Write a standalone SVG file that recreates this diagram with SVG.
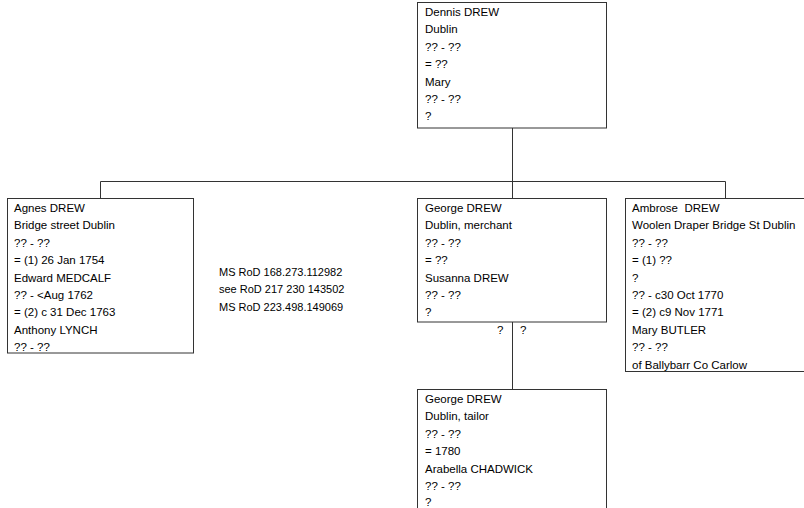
<svg xmlns="http://www.w3.org/2000/svg" width="804" height="508" viewBox="0 0 804 508">
<style>
.box{fill:#fff;stroke:#333;stroke-width:1}
.t{font-family:"Liberation Sans",Arial,sans-serif;font-size:11.5px;fill:#000}
.n{font-family:"Liberation Sans",Arial,sans-serif;font-size:11px;fill:#000}
.c{stroke:#333;stroke-width:1;fill:none}
</style>
<rect width="804" height="508" fill="#fff"/>
<g id="connectors">
<path class="c" d="M512.5 128V181.5M100.5 181.5H725.5M100.5 181.5V198M512.5 181.5V198M725.5 181.5V198M512.5 322V389"/>
</g>
<g id="dennis">
<rect class="box" x="417.5" y="2.5" width="189" height="125.5"/>
<text class="t"><tspan x="425" y="16">Dennis DREW</tspan><tspan x="425" y="33.4">Dublin</tspan><tspan x="425" y="50.8">?? - ??</tspan><tspan x="425" y="68.2">= ??</tspan><tspan x="425" y="85.6">Mary</tspan><tspan x="425" y="103">?? - ??</tspan><tspan x="425" y="120.4">?</tspan></text>
</g>
<g id="agnes">
<rect class="box" x="7.5" y="198.5" width="186" height="154.5"/>
<text class="t"><tspan x="14" y="212">Agnes DREW</tspan><tspan x="14" y="229.4">Bridge street Dublin</tspan><tspan x="14" y="246.8">?? - ??</tspan><tspan x="14" y="264.2">= (1) 26 Jan 1754</tspan><tspan x="14" y="281.6">Edward MEDCALF</tspan><tspan x="14" y="299">?? - &lt;Aug 1762</tspan><tspan x="14" y="316.4">= (2) c 31 Dec 1763</tspan><tspan x="14" y="333.8">Anthony LYNCH</tspan><tspan x="14" y="351.2">?? - ??</tspan></text>
</g>
<g id="note">
<text class="n"><tspan x="219" y="276">MS RoD 168.273.112982</tspan><tspan x="219" y="293.4">see RoD 217 230 143502</tspan><tspan x="219" y="310.8">MS RoD 223.498.149069</tspan></text>
</g>
<g id="george">
<rect class="box" x="417.5" y="198.5" width="189" height="123.5"/>
<text class="t"><tspan x="425" y="212">George DREW</tspan><tspan x="425" y="229.4">Dublin, merchant</tspan><tspan x="425" y="246.8">?? - ??</tspan><tspan x="425" y="264.2">= ??</tspan><tspan x="425" y="281.6">Susanna DREW</tspan><tspan x="425" y="299">?? - ??</tspan><tspan x="425" y="316.4">?</tspan></text>
<text class="t"><tspan x="497" y="334">?</tspan><tspan x="520" y="334">?</tspan></text>
</g>
<g id="ambrose">
<rect class="box" x="625.5" y="198.5" width="190" height="173"/>
<text class="t"><tspan x="632" y="212" style="white-space:pre">Ambrose  DREW</tspan><tspan x="632" y="229.4">Woolen Draper Bridge St Dublin</tspan><tspan x="632" y="246.8">?? - ??</tspan><tspan x="632" y="264.2">= (1) ??</tspan><tspan x="632" y="281.6">?</tspan><tspan x="632" y="299">?? - c30 Oct 1770</tspan><tspan x="632" y="316.4">= (2) c9 Nov 1771</tspan><tspan x="632" y="333.8">Mary BUTLER</tspan><tspan x="632" y="351.2">?? - ??</tspan><tspan x="632" y="368.6">of Ballybarr Co Carlow</tspan></text>
</g>
<g id="george2">
<rect class="box" x="417.5" y="389.5" width="189" height="125"/>
<text class="t"><tspan x="425" y="403">George DREW</tspan><tspan x="425" y="420.4">Dublin, tailor</tspan><tspan x="425" y="437.8">?? - ??</tspan><tspan x="425" y="455.2">= 1780</tspan><tspan x="425" y="472.6">Arabella CHADWICK</tspan><tspan x="425" y="490">?? - ??</tspan><tspan x="425" y="506">?</tspan></text>
</g>
</svg>
